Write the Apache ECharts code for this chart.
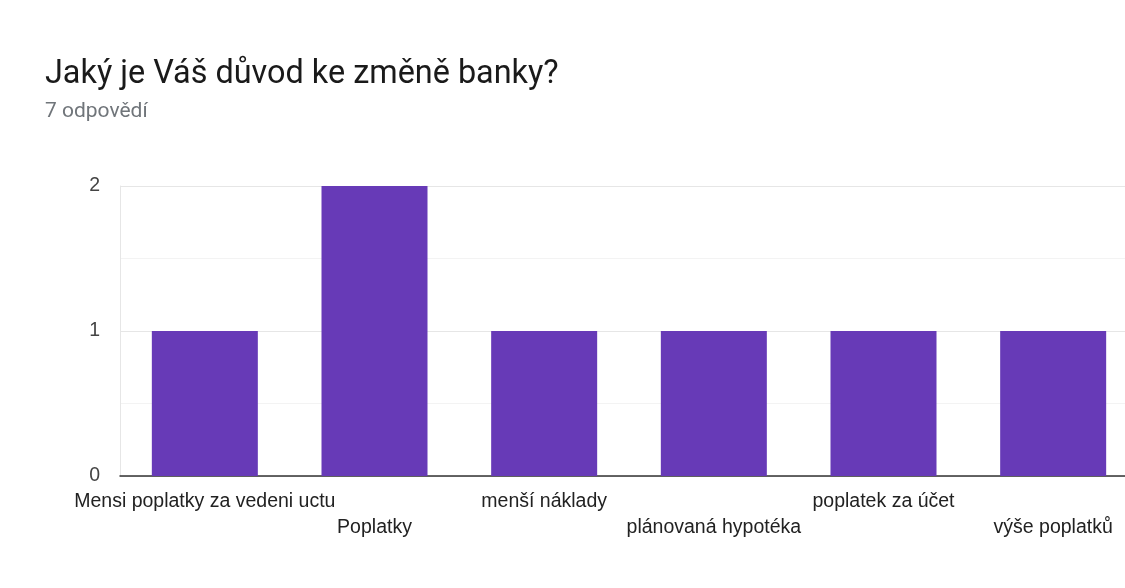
<!DOCTYPE html>
<html>
<head>
<meta charset="utf-8">
<script src="https://cdn.jsdelivr.net/npm/echarts@6/dist/echarts.min.js"></script>
<style>
  html, body { margin: 0; padding: 0; background: #ffffff; overflow: hidden; }
  /* plot runs slightly past the right edge of the window */
  #chart { width: 1138px; height: 588px; }
</style>
</head>
<body>
<div id="chart"></div>
<script>
// Survey answers: reasons for switching bank
const categories = [
  'Mensi poplatky za vedeni uctu',
  'Poplatky',
  'menší náklady',
  'plánovaná hypotéka',
  'poplatek za účet',
  'výše poplatků'
];
const counts = [1, 2, 1, 1, 1, 1];
const yTicks = [0, 1, 2];

const chart = echarts.init(document.getElementById('chart'), null, { renderer: 'canvas' });

chart.setOption({
  backgroundColor: '#ffffff',
  animation: false,
  title: {
    text: 'Jaký je Váš důvod ke změně banky?',
    subtext: '7 odpovědí',
    left: 45,
    top: 56,
    padding: 0,
    itemGap: 5,
    textStyle: {
      fontFamily: 'Roboto',
      fontSize: 32.4,
      fontWeight: 'normal',
      color: '#1a1a1a',
      lineHeight: 38
    },
    subtextStyle: {
      fontFamily: 'Roboto',
      fontSize: 21,
      color: '#70757a',
      lineHeight: 26
    }
  },
  grid: {
    left: 120,
    right: 0,
    top: 186,
    bottom: 112,
    containLabel: false
  },
  xAxis: {
    type: 'category',
    data: categories,
    axisTick: { show: false },
    axisLine: { lineStyle: { color: '#333333', width: 1.5 } },
    axisLabel: {
      interval: 0,
      margin: 13,
      fontFamily: 'Liberation Sans, Arial',
      fontSize: 19.5,
      color: '#222222',
      lineHeight: 26,
      formatter: (value, index) => (index % 2 === 1 ? '\n' + value : value)
    }
  },
  yAxis: {
    type: 'value',
    min: yTicks[0],
    max: yTicks[yTicks.length - 1],
    interval: 1,
    axisLine: { show: true, lineStyle: { color: '#e6e6e6', width: 1 } },
    axisTick: { show: false },
    axisLabel: {
      margin: 20,
      fontFamily: 'Liberation Sans, Arial',
      fontSize: 19.5,
      color: '#444444'
    },
    splitLine: { lineStyle: { color: '#e6e6e6', width: 1 } },
    minorTick: { show: false, splitNumber: 2 },
    minorSplitLine: { show: true, lineStyle: { color: '#f3f3f3', width: 1 } }
  },
  series: [{
    type: 'bar',
    data: counts,
    barWidth: 106,
    itemStyle: { color: '#673ab7' }
  }]
});
</script>
</body>
</html>
